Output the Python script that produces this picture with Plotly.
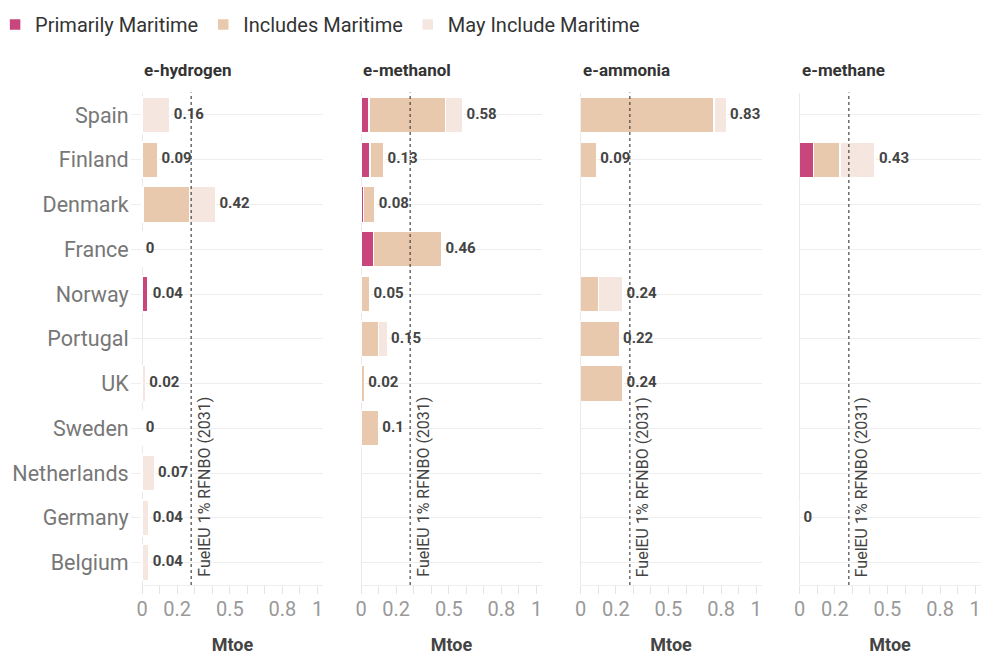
import plotly.graph_objects as go
from plotly.subplots import make_subplots

# e-fuel offtake by country (Mtoe), split by how sure the maritime use is
countries = ["Spain", "Finland", "Denmark", "France", "Norway", "Portugal",
             "UK", "Sweden", "Netherlands", "Germany", "Belgium"]
fuels = ["e-hydrogen", "e-methanol", "e-ammonia", "e-methane"]
series_names = ["Primarily Maritime", "Includes Maritime", "May Include Maritime"]
series_colors = ["#c8467c", "#e8c9ad", "#f5e7df"]

hydrogen_primarily = [None, None, 0.005, 0, 0.03, None, None, 0, None, None, None]
hydrogen_includes = [None, 0.09, 0.265, None, None, None, None, None, None, None, None]
hydrogen_may = [0.16, None, 0.15, None, 0.01, None, 0.02, None, 0.07, 0.04, 0.04]

methanol_primarily = [0.045, 0.05, 0.015, 0.07, None, None, None, None, None, None, None]
methanol_includes = [0.435, 0.08, 0.065, 0.39, 0.05, 0.10, 0.02, 0.10, None, None, None]
methanol_may = [0.10, None, None, None, None, 0.05, None, None, None, None, None]

ammonia_primarily = [None] * 11
ammonia_includes = [0.76, 0.09, None, None, 0.10, 0.22, 0.24, None, None, None, None]
ammonia_may = [0.07, None, None, None, 0.14, None, None, None, None, None, None]

methane_primarily = [None, 0.08, None, None, None, None, None, None, None, 0, None]
methane_includes = [None, 0.15, None, None, None, None, None, None, None, None, None]
methane_may = [None, 0.20, None, None, None, None, None, None, None, None, None]

fueleu_target = 0.28
fueleu_label = "FuelEU 1% RFNBO (2031)"

tick_vals = [0, 0.1, 0.2, 0.3, 0.4, 0.5, 0.6, 0.7, 0.8, 0.9, 1.0]
tick_text = ["0", "", "0.2", "", "", "0.5", "", "", "0.8", "", "1"]

data = [
    [hydrogen_primarily, hydrogen_includes, hydrogen_may],
    [methanol_primarily, methanol_includes, methanol_may],
    [ammonia_primarily, ammonia_includes, ammonia_may],
    [methane_primarily, methane_includes, methane_may],
]

W, H = 993, 672
OFF = 8    # the page body margin moves the figure 8px right and down
TOP = 36   # top margin holds the legend


def px_x(page_x):
    return (page_x - OFF) / W


def px_y(page_y):
    return 1 - (page_y - OFF - TOP) / (H - TOP)


panel_left = [142, 361, 580.7, 799.7]
panel_w = 180.8
y_top, y_bot = 92.6, 585

fig = make_subplots(rows=1, cols=4, shared_yaxes=True)

for i, fuel_series in enumerate(data):
    for name, color, vals in zip(series_names, series_colors, fuel_series):
        fig.add_trace(go.Bar(
            y=countries, x=vals, orientation="h", name=name,
            marker=dict(color=color, line=dict(color="white", width=1.5)),
            legendgroup=name, showlegend=(i == 0), hoverinfo="x+y",
        ), row=1, col=i + 1)

    # totals as text right of each bar
    totals, labels, ys = [], [], []
    for k, c in enumerate(countries):
        parts = [s[k] for s in fuel_series if s[k] is not None]
        if parts:
            t = round(sum(parts), 2)
            totals.append(t)
            labels.append(" " + f"{t:g}")
            ys.append(c)
    fig.add_trace(go.Scatter(
        x=totals, y=ys, mode="text", text=labels, textposition="middle right",
        textfont=dict(family="Roboto", size=15, color="#444", weight="bold"),
        showlegend=False, hoverinfo="skip", cliponaxis=False,
    ), row=1, col=i + 1)

    # FuelEU reference line
    xref = "x" if i == 0 else f"x{i + 1}"
    yref = "y domain" if i == 0 else f"y{i + 1} domain"
    fig.add_shape(type="line", xref=xref, yref=yref, x0=fueleu_target, x1=fueleu_target,
                  y0=0, y1=1, line=dict(color="#444", width=1.2, dash="dot"))
    fig.add_annotation(xref=xref, yref=yref, x=fueleu_target, y=0, text=fueleu_label,
                       textangle=-90, showarrow=False, xanchor="left", yanchor="bottom",
                       xshift=1, yshift=6, font=dict(family="Roboto", size=16, color="#444"))

    # panel title
    fig.add_annotation(xref="paper", yref="paper", x=px_x(panel_left[i]), y=px_y(70),
                       text=f"<b>{fuels[i]}</b>", showarrow=False, xanchor="left",
                       yanchor="middle", font=dict(family="Roboto", size=17, color="#333"))

    ax = "xaxis" if i == 0 else f"xaxis{i + 1}"
    fig.layout[ax].domain = [px_x(panel_left[i]), px_x(panel_left[i] + panel_w)]

fig.update_xaxes(
    range=[0, 1.03], tickvals=tick_vals, ticktext=tick_text,
    ticks="outside", ticklen=8, tickcolor="#e4e4e4", showgrid=False,
    zeroline=True, zerolinecolor="#efe6e6", zerolinewidth=1,
    showline=True, linecolor="#eeeeee", linewidth=1,
    ticklabelstandoff=-2, automargin=False,
    tickfont=dict(family="Roboto", size=20, color="#999"),
    title=dict(text="<b>Mtoe</b>", font=dict(family="Roboto", size=18, color="#444"), standoff=18),
    fixedrange=True,
)
fig.update_yaxes(
    categoryorder="array", categoryarray=countries, range=[10.5, -0.5],
    domain=[px_y(y_bot), px_y(y_top)],
    showgrid=True, gridcolor="#eeeeee", gridwidth=1, ticks="", automargin=False,
    tickfont=dict(family="Roboto", size=21.5, color="#777"),
    fixedrange=True,
)
# first panel: gridlines poke out to the left like in the original
fig.update_yaxes(ticks="outside", ticklen=10, tickcolor="#eeeeee", ticklabelstandoff=-2,
                 row=1, col=1)

fig.update_layout(
    width=W, height=H, barmode="stack", bargap=0.2,
    margin=dict(l=0, r=0, t=TOP, b=0, autoexpand=False),
    plot_bgcolor="white", paper_bgcolor="white",
    font=dict(family="Roboto"),
    legend=dict(orientation="h", x=-0.013, y=1, xanchor="left", yanchor="bottom",
                font=dict(family="Roboto", size=20, color="#333"), traceorder="normal",
                itemwidth=30),
)

fig.write_html("out.html")
